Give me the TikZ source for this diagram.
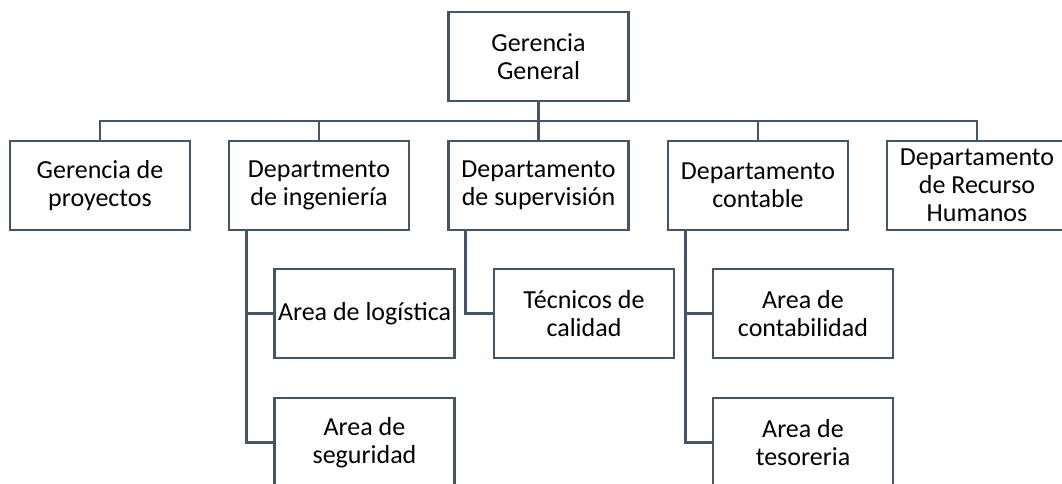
\documentclass[tikz,border=0pt]{standalone}
\usepackage{fontspec}
\setmainfont{Carlito}
\definecolor{lineC}{HTML}{44546A}
\tikzset{
  orgbox/.style={draw=lineC, line width=2.6pt, fill=white, rectangle,
    minimum width=180pt, minimum height=89pt, inner sep=0pt, align=center,
    font=\fontsize{26}{28}\selectfont, text=black},
  conn/.style={draw=lineC, line width=2.6pt}
}
\begin{document}
\begin{tikzpicture}[x=1pt,y=-1pt]
\useasboundingbox (0,0) rectangle (1062,483);
\clip (0,0) rectangle (1062,483);
\fill[white] (0,0) rectangle (1062,483);
\coordinate (busy) at (538.5,121);
% top
\node[orgbox] (gg) at (538.5,56.5) {Gerencia\\General};
% level 2
\node[orgbox] (b1) at (100,185.5) {Gerencia de\\proyectos};
\node[orgbox] (b2) at (319,185.5) {Departmento\\de ingeniería};
\node[orgbox] (b3) at (538.5,185.5) {Departamento\\de supervisión};
\node[orgbox] (b4) at (758,185.5) {Departamento\\contable};
\node[orgbox] (b5) at (977,185.5) {Departamento\\de Recurso\\Humanos};
% level 3
\node[orgbox] (l1) at (364.5,313.5) {Area de logística};
\node[orgbox] (l2) at (364.5,442.5) {Area de\\seguridad};
\node[orgbox] (t1) at (584,313.5) {Técnicos de\\calidad};
\node[orgbox] (c1) at (803,313.5) {Area de\\contabilidad};
\node[orgbox] (c2) at (803,442.5) {Area de\\tesoreria};
% connectors
\draw[conn] (gg.south) -- (b3.north);
\draw[conn] (b1.north) -- (b1.north |- busy) -- (b5.north |- busy) -- (b5.north);
\draw[conn] (b2.north) -- (b2.north |- busy);
\draw[conn] (b4.north) -- (b4.north |- busy);
\coordinate (v2) at ([xshift=19pt]b2.south west);
\coordinate (v3) at ([xshift=18pt]b3.south west);
\coordinate (v4) at ([xshift=19pt]b4.south west);
\draw[conn] (v2) |- (l2.west);
\draw[conn] (v2 |- l1.west) -- (l1.west);
\draw[conn] (v3) |- (t1.west);
\draw[conn] (v4) |- (c2.west);
\draw[conn] (v4 |- c1.west) -- (c1.west);
\end{tikzpicture}
\end{document}
